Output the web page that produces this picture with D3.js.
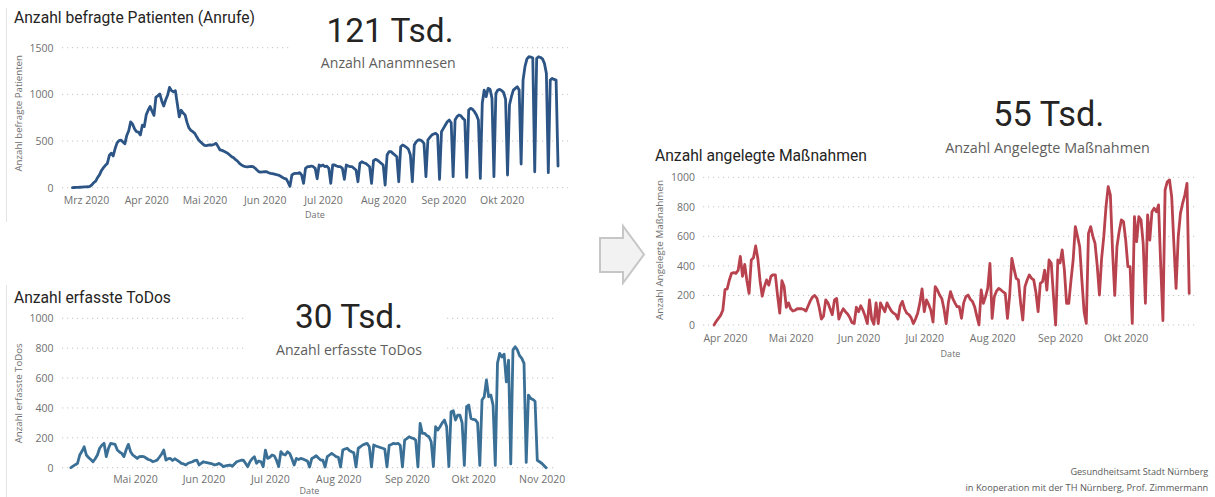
<!DOCTYPE html>
<html>
<head>
<meta charset="utf-8">
<script src="https://cdn.jsdelivr.net/npm/d3@7"></script>
<style>
  body { margin: 0; background: #ffffff; }
  svg { display: block; }
</style>
</head>
<body>
<svg id="dash" width="1215" height="497"></svg>
<script>
// ---- Daily series -------------------------------------------------------
// Anzahl befragte Patienten (Anrufe), one value per day from 2020-02-23
const patientStart = "2020-02-23";
const patientCalls = [
  0, 2, 3, 3, 5, 6, 8,
  8, 10, 14, 30, 55, 70, 110,
  140, 185, 215, 240, 260, 345, 370,
  340, 420, 480, 505, 510, 490, 470,
  560, 610, 705, 680, 630, 600, 595,
  565, 670, 655, 780, 830, 870, 820,
  775, 970, 985, 1005, 930, 875, 940,
  990, 1075, 1040, 1028, 1040, 900, 760,
  830, 800, 780, 700, 640, 615, 600,
  582, 545, 510, 490, 470, 454, 450,
  455, 460, 457, 465, 475, 440, 404,
  400, 390, 380, 368, 350, 332, 320,
  300, 285, 261, 245, 232, 225, 222,
  225, 228, 225, 210, 190, 171, 168,
  170, 171, 171, 160, 153, 150, 145,
  140, 136, 125, 112, 100, 95, 60,
  15, 136, 150, 154, 154, 161, 136,
  46, 207, 225, 225, 232, 225, 207,
  95, 243, 232, 243, 225, 232, 207,
  46, 243, 243, 232, 225, 225, 207,
  90, 243, 232, 225, 225, 207, 190,
  64, 260, 278, 268, 260, 243, 225,
  46, 289, 303, 296, 278, 260, 243,
  29, 350, 386, 386, 368, 350, 332,
  64, 439, 457, 446, 432, 411, 350,
  64, 457, 493, 511, 511, 500, 475,
  118, 511, 539, 564, 575, 582, 564,
  89, 600, 636, 671, 707, 725, 696,
  118, 725, 761, 779, 770, 743, 725,
  111, 832, 850, 840, 814, 779, 725,
  100, 904, 1046, 975, 1064, 1055, 957,
  118, 1010, 1046, 1053, 1040, 1020, 946,
  136, 886, 975, 1046, 1064, 1082, 1046,
  254, 1153, 1300, 1380, 1403, 1400, 1390,
  171, 1385, 1403, 1395, 1380, 1332, 1225,
  161, 1153, 1171, 1160, 1153, 232
];

// Anzahl erfasste ToDos, one value per day from 2020-04-02
const todoStart = "2020-04-02";
const todoCounts = [
  0, 10, 20,
  29, 85, 110, 140, 85, 67, 55,
  40, 60, 85, 130, 150, 163, 74,
  130, 163, 160, 156, 118, 105, 96,
  74, 120, 156, 107, 85, 74, 62,
  74, 75, 74, 65, 55, 51, 40,
  45, 51, 70, 90, 118, 51, 60,
  62, 48, 60, 51, 40, 29, 25,
  18, 30, 35, 40, 48, 51, 18,
  30, 40, 35, 32, 29, 25, 18,
  22, 29, 20, 7, 12, 15, 18,
  10, 25, 40, 45, 50, 51, 30,
  7, 40, 60, 74, 30, 45, 40,
  7, 118, 62, 70, 85, 80, 50,
  7, 107, 90, 85, 107, 95, 60,
  18, 62, 55, 62, 58, 51, 45,
  5, 62, 70, 80, 65, 51, 50,
  5, 74, 85, 96, 85, 74, 70,
  5, 118, 125, 130, 115, 107, 100,
  5, 130, 140, 152, 158, 163, 140,
  5, 152, 145, 140, 135, 130, 125,
  5, 150, 155, 163, 160, 163, 150,
  5, 185, 195, 207, 200, 196, 185,
  5, 297, 230, 230, 215, 207, 174,
  8, 274, 252, 274, 300, 319, 274,
  8, 375, 381, 319, 352, 352, 300,
  15, 408, 419, 330, 323, 320, 300,
  15, 453, 475, 587, 475, 486, 419,
  15, 700, 765, 740, 760, 575, 720,
  25, 788, 810, 788, 750, 732, 698,
  35, 486, 464, 457, 445, 50, 40,
  30, 15, 0
];

// Anzahl angelegte Maßnahmen, one value per day from 2020-03-27
const measureStart = "2020-03-27";
const measureCounts = [
  0, 25, 45, 65, 100,
  240, 245, 305, 350, 355, 350, 370, 465, 330, 410,
  300, 214, 440, 455, 535, 450, 300, 195, 260, 305,
  270, 330, 340, 340, 200, 80, 300, 260, 120, 150,
  110, 95, 100, 110, 110, 110, 105, 95, 130, 165,
  190, 200, 180, 120, 40, 60, 170, 150, 110, 70,
  170, 180, 40, 80, 110, 90, 75, 50, 15, 10, 120,
  90, 130, 100, 60, 10, 170, 40, 5, 150, 10,
  150, 120, 90, 150, 120, 95, 80, 70, 40, 130,
  160, 110, 80, 70, 50, 10, 40, 80, 150, 245,
  90, 170, 140, 100, 20, 260, 237, 203, 180, 110,
  10, 150, 226, 180, 150, 124, 124, 45, 150, 192,
  203, 175, 160, 124, 60, 0, 237, 147, 192, 250, 417,
  45, 192, 230, 248, 237, 225, 214, 45, 200, 451,
  380, 316, 305, 150, 34, 260, 305, 339, 316, 305,
  220, 90, 282, 293, 372, 237, 440, 418, 200, 0, 440,
  420, 508, 372, 147, 147, 300, 440, 666, 600, 530,
  300, 90, 11, 620, 666, 600, 553, 400, 203, 450,
  600, 800, 937, 880, 500, 200, 530, 632, 711, 700,
  575, 395, 395, 11, 733, 564, 733, 711, 550, 147,
  745, 575, 767, 790, 767, 813, 400, 30, 915, 970,
  982, 869, 550, 248, 598, 756, 824, 880, 959, 214
];

// ---- Axis ticks ---------------------------------------------------------
const patientYTicks = [0, 500, 1000, 1500];
const todoYTicks = [0, 200, 400, 600, 800, 1000];
const measureYTicks = [0, 200, 400, 600, 800, 1000];

const patientMonths = ["2020-03-01", "2020-04-01", "2020-05-01", "2020-06-01", "2020-07-01", "2020-08-01", "2020-09-01", "2020-10-01"];
const patientMonthLabels = ["Mrz 2020", "Apr 2020", "Mai 2020", "Jun 2020", "Jul 2020", "Aug 2020", "Sep 2020", "Okt 2020"];
const todoMonths = ["2020-05-01", "2020-06-01", "2020-07-01", "2020-08-01", "2020-09-01", "2020-10-01", "2020-11-01"];
const todoMonthLabels = ["Mai 2020", "Jun 2020", "Jul 2020", "Aug 2020", "Sep 2020", "Okt 2020", "Nov 2020"];
const measureMonths = ["2020-04-01", "2020-05-01", "2020-06-01", "2020-07-01", "2020-08-01", "2020-09-01", "2020-10-01"];
const measureMonthLabels = ["Apr 2020", "Mai 2020", "Jun 2020", "Jul 2020", "Aug 2020", "Sep 2020", "Okt 2020"];

// ---- Helpers ------------------------------------------------------------
const parseDay = d3.timeParse("%Y-%m-%d");
const daily = (start, values) => {
  const s = parseDay(start);
  return values.map((v, i) => ({ date: d3.timeDay.offset(s, i), value: v }));
};

const TITLE_FONT = "Roboto, 'Noto Sans', sans-serif";
const LABEL_FONT = "'Open Sans', 'Noto Sans', sans-serif";

const svg = d3.select("#dash");

// scale a text element so that it spans the given width
function fitWidth(sel, w) {
  const len = sel.node().getComputedTextLength();
  const fs = parseFloat(sel.attr("font-size"));
  if (len > 0) sel.attr("font-size", (fs * w / len).toFixed(2));
  return sel;
}

function drawPanel(p) {
  const g = svg.append("g");
  const data = daily(p.start, p.values);

  const x = d3.scaleTime()
    .domain([parseDay(p.months[0]), parseDay(p.months[p.months.length - 1])])
    .range(p.xRange);
  const y = d3.scaleLinear().domain(p.yDomain).range(p.yRange);

  // dotted gridlines
  g.append("g").selectAll("line").data(p.yTicks).join("line")
    .attr("x1", p.plotLeft).attr("x2", p.plotRight)
    .attr("y1", d => y(d)).attr("y2", d => y(d))
    .attr("stroke", "#c4c4c4").attr("stroke-width", 1)
    .attr("stroke-dasharray", "1.2,3.8");

  // y axis labels
  const yAxis = d3.axisLeft(y).tickValues(p.yTicks).tickFormat(d3.format("d"))
    .tickSize(0).tickPadding(0);
  const ya = g.append("g").attr("transform", `translate(${p.yLabelX},0)`).call(yAxis);
  ya.select(".domain").remove();
  ya.selectAll("text")
    .attr("font-family", LABEL_FONT).attr("font-size", 10.5).attr("fill", "#707070");

  // x axis labels
  const xAxis = d3.axisBottom(x)
    .tickValues(p.months.map(parseDay))
    .tickFormat((d, i) => p.monthLabels[i])
    .tickSize(0).tickPadding(0);
  const xa = g.append("g").attr("transform", `translate(0,${p.xLabelY})`).call(xAxis);
  xa.select(".domain").remove();
  xa.selectAll("text")
    .attr("dy", 0).attr("y", 0)
    .attr("font-family", LABEL_FONT).attr("font-size", 10.5).attr("fill", "#707070");

  // axis titles
  g.append("text")
    .attr("x", (p.plotLeft + p.plotRight) / 2).attr("y", p.dateY)
    .attr("text-anchor", "middle")
    .attr("font-family", LABEL_FONT).attr("font-size", 9).attr("fill", "#707070")
    .text("Date");

  const yt = g.append("text")
    .attr("transform", `translate(${p.yTitleX},${p.yTitleY}) rotate(-90)`)
    .attr("text-anchor", "middle")
    .attr("font-family", LABEL_FONT).attr("font-size", 9).attr("fill", "#707070")
    .text(p.yTitle);
  fitWidth(yt, p.yTitleW);

  // line
  g.append("path").datum(data)
    .attr("fill", "none").attr("stroke", p.color)
    .attr("stroke-width", 2.8).attr("stroke-linejoin", "round").attr("stroke-linecap", "round")
    .attr("d", d3.line().x(d => x(d.date)).y(d => y(d.value)));

  // chart title
  const t = g.append("text")
    .attr("x", p.titleX).attr("y", p.titleY)
    .attr("font-family", TITLE_FONT).attr("font-size", 14).attr("fill", "#252423")
    .text(p.title);
  fitWidth(t, p.titleW);

  // KPI card
  if (p.cardRect) {
    g.append("rect")
      .attr("x", p.cardRect[0]).attr("y", p.cardRect[1])
      .attr("width", p.cardRect[2]).attr("height", p.cardRect[3])
      .attr("fill", "#ffffff");
  }
  const big = g.append("text")
    .attr("x", p.cardX).attr("y", p.bigY).attr("text-anchor", "middle")
    .attr("font-family", TITLE_FONT).attr("font-size", 36).attr("fill", "#252423")
    .text(p.big);
  fitWidth(big, p.bigW);
  const sub = g.append("text")
    .attr("x", p.subX).attr("y", p.subY).attr("text-anchor", "middle")
    .attr("font-family", LABEL_FONT).attr("font-size", 13).attr("fill", "#605e5c")
    .text(p.sub);
  fitWidth(sub, p.subW);
}

// ---- Panels -------------------------------------------------------------
drawPanel({
  start: patientStart, values: patientCalls, color: "#2c5585",
  months: patientMonths, monthLabels: patientMonthLabels,
  xRange: [86, 501.7], plotLeft: 62, plotRight: 568,
  yDomain: [0, 1500], yRange: [187.7, 47.7], yTicks: patientYTicks,
  yLabelX: 53.5, xLabelY: 203.5, dateY: 218.3,
  yTitle: "Anzahl befragte Patienten", yTitleX: 21.5, yTitleY: 113.3, yTitleW: 116.7,
  title: "Anzahl befragte Patienten (Anrufe)", titleX: 14, titleY: 23.3, titleW: 241,
  cardRect: [292, 6, 196, 70],
  big: "121 Tsd.", cardX: 390, bigY: 41.7, bigW: 127,
  sub: "Anzahl Ananmnesen", subX: 388.3, subY: 68.3, subW: 135
});

drawPanel({
  start: todoStart, values: todoCounts, color: "#3a6f96",
  months: todoMonths, monthLabels: todoMonthLabels,
  xRange: [135, 541.7], plotLeft: 62, plotRight: 557,
  yDomain: [0, 1000], yRange: [467.7, 318.3], yTicks: todoYTicks,
  yLabelX: 53.5, xLabelY: 483.3, dateY: 494,
  yTitle: "Anzahl erfasste ToDos", yTitleX: 21.5, yTitleY: 393.3, yTitleW: 100,
  title: "Anzahl erfasste ToDos", titleX: 14, titleY: 303.3, titleW: 157,
  cardRect: [247, 290, 200, 72],
  big: "30 Tsd.", cardX: 349, bigY: 327.7, bigW: 108,
  sub: "Anzahl erfasste ToDos", subX: 349, subY: 355, subW: 146
});

drawPanel({
  start: measureStart, values: measureCounts, color: "#b8424e",
  months: measureMonths, monthLabels: measureMonthLabels,
  xRange: [725, 1125.7], plotLeft: 703, plotRight: 1198,
  yDomain: [0, 1000], yRange: [325, 177.3], yTicks: measureYTicks,
  yLabelX: 695, xLabelY: 341.5, dateY: 356.5,
  yTitle: "Anzahl Angelegte Maßnahmen", yTitleX: 663, yTitleY: 250, yTitleW: 140,
  title: "Anzahl angelegte Maßnahmen", titleX: 655, titleY: 161.3, titleW: 212,
  cardRect: null,
  big: "55 Tsd.", cardX: 1048.8, bigY: 126, bigW: 111,
  sub: "Anzahl Angelegte Maßnahmen", subX: 1047.5, subY: 153.3, subW: 205
});

// ---- Decorations --------------------------------------------------------
// thin frame on the left edge of the report
svg.append("line").attr("x1", 6.5).attr("x2", 6.5).attr("y1", 8).attr("y2", 222)
  .attr("stroke", "#e3e3e3").attr("stroke-width", 1);
svg.append("line").attr("x1", 6.5).attr("x2", 6.5).attr("y1", 285).attr("y2", 497)
  .attr("stroke", "#e3e3e3").attr("stroke-width", 1);

// flow arrow between the panels
svg.append("polygon")
  .attr("points", "600,238 623,238 623,226 644,254.5 623,283 623,272 600,272")
  .attr("fill", "#f2f2f2").attr("stroke", "#c6c6c6").attr("stroke-width", 2)
  .attr("stroke-linejoin", "miter");

// footer credits
const foot1 = svg.append("text").attr("x", 1208.3).attr("y", 475).attr("text-anchor", "end")
  .attr("font-family", LABEL_FONT).attr("font-size", 9).attr("fill", "#595959")
  .text("Gesundheitsamt Stadt Nürnberg");
fitWidth(foot1, 138);
const foot2 = svg.append("text").attr("x", 1208.3).attr("y", 491).attr("text-anchor", "end")
  .attr("font-family", LABEL_FONT).attr("font-size", 9).attr("fill", "#595959")
  .text("in Kooperation mit der TH Nürnberg, Prof. Zimmermann");
fitWidth(foot2, 243);
</script>
</body>
</html>
